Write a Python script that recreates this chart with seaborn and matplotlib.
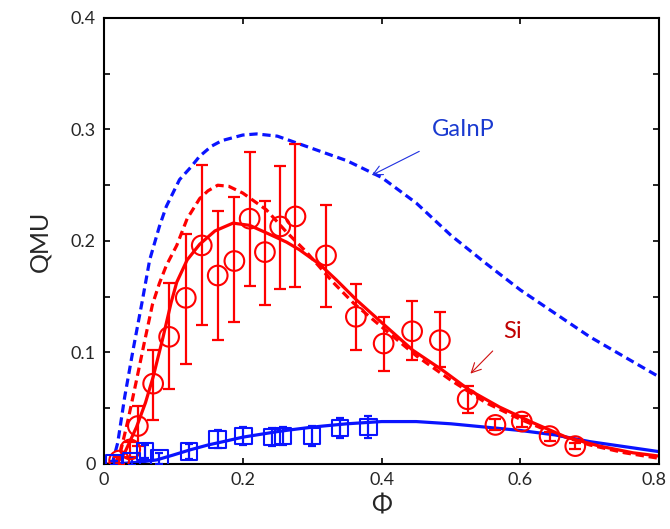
import numpy as np
import pandas as pd
import matplotlib
matplotlib.use("Agg")
import matplotlib.pyplot as plt
from matplotlib.ticker import MultipleLocator, FuncFormatter
import seaborn as sns

# ---- model curves ----
gainp_dash_x = [0.012, 0.02, 0.03, 0.042, 0.055, 0.066, 0.08, 0.09, 0.109, 0.125, 0.138, 0.155,
                0.17, 0.2, 0.22, 0.25, 0.3, 0.35, 0.4, 0.45, 0.5, 0.55, 0.6, 0.65, 0.7, 0.75, 0.8]
gainp_dash_y = [0.0, 0.019, 0.06, 0.102, 0.145, 0.183, 0.213, 0.231, 0.255, 0.266, 0.276, 0.285,
                0.290, 0.295, 0.296, 0.294, 0.283, 0.272, 0.257, 0.234, 0.205, 0.180, 0.156,
                0.135, 0.114, 0.096, 0.078]

si_dash_x = [0.015, 0.023, 0.035, 0.047, 0.058, 0.07, 0.08, 0.09, 0.105, 0.12, 0.138, 0.15,
             0.164, 0.18, 0.2, 0.234, 0.263, 0.292, 0.33, 0.36, 0.4, 0.45, 0.5, 0.55, 0.6,
             0.65, 0.7, 0.75, 0.8]
si_dash_y = [0.0, 0.008, 0.040, 0.075, 0.108, 0.143, 0.162, 0.178, 0.196, 0.220, 0.238, 0.245,
             0.250, 0.249, 0.243, 0.228, 0.208, 0.190, 0.163, 0.144, 0.123, 0.097, 0.075,
             0.055, 0.040, 0.027, 0.017, 0.010, 0.005]

si_fit_x = [0.0, 0.018, 0.03, 0.047, 0.06, 0.071, 0.085, 0.097, 0.105, 0.12, 0.138, 0.16, 0.186,
            0.21, 0.235, 0.263, 0.282, 0.311, 0.335, 0.364, 0.407, 0.445, 0.488, 0.527, 0.57,
            0.618, 0.666, 0.714, 0.762, 0.8]
si_fit_y = [0.0, 0.0, 0.010, 0.033, 0.055, 0.078, 0.113, 0.145, 0.163, 0.183, 0.197, 0.209,
            0.216, 0.214, 0.207, 0.199, 0.192, 0.179, 0.165, 0.147, 0.123, 0.102, 0.084, 0.066,
            0.051, 0.037, 0.024, 0.016, 0.010, 0.007]

gainp_fit_x = [0.01, 0.028, 0.05, 0.076, 0.1, 0.124, 0.15, 0.172, 0.2, 0.22, 0.25, 0.268, 0.3,
               0.316, 0.35, 0.4, 0.45, 0.5, 0.55, 0.6, 0.65, 0.7, 0.75, 0.8]
gainp_fit_y = [0.0, 0.0005, 0.0015, 0.0036, 0.008, 0.0126, 0.017, 0.020, 0.024, 0.026, 0.029,
               0.0305, 0.033, 0.034, 0.036, 0.038, 0.038, 0.036, 0.033, 0.030, 0.026, 0.020,
               0.0155, 0.011]

# ---- measured points ----
si_x = [0.022, 0.038, 0.049, 0.071, 0.094, 0.118, 0.141, 0.164, 0.188, 0.210, 0.232, 0.254,
        0.276, 0.320, 0.363, 0.403, 0.444, 0.484, 0.524, 0.564, 0.602, 0.642, 0.679]
si_y = [0.003, 0.013, 0.034, 0.072, 0.114, 0.149, 0.196, 0.169, 0.182, 0.220, 0.190, 0.213,
        0.222, 0.187, 0.132, 0.108, 0.119, 0.111, 0.058, 0.035, 0.038, 0.025, 0.016]
si_hi = [0.006, 0.020, 0.052, 0.102, 0.162, 0.206, 0.268, 0.227, 0.239, 0.280, 0.236, 0.267,
         0.287, 0.232, 0.161, 0.132, 0.146, 0.136, 0.070, 0.040, 0.043, 0.029, 0.019]
si_lo = [0.000, 0.006, 0.016, 0.039, 0.067, 0.090, 0.125, 0.111, 0.127, 0.160, 0.143, 0.157,
         0.159, 0.141, 0.102, 0.083, 0.093, 0.087, 0.046, 0.030, 0.033, 0.021, 0.013]

gainp_x = [0.015, 0.040, 0.059, 0.080, 0.123, 0.164, 0.201, 0.242, 0.258, 0.300, 0.340, 0.381]
gainp_y = [0.001, 0.002, 0.011, 0.005, 0.011, 0.022, 0.025, 0.024, 0.025, 0.025, 0.032, 0.033]
gainp_err = [0.002, 0.003, 0.006, 0.005, 0.007, 0.008, 0.008, 0.008, 0.008, 0.009, 0.009, 0.010]

sns.set_style("ticks")
plt.rcParams['font.family'] = ['Lato', 'DejaVu Sans']

fig = plt.figure(figsize=(6.7, 5.29), dpi=100)
ax = fig.add_axes([0.155, 0.123, 0.829, 0.843])

dash = (0, (2.6, 1.5))
sns.lineplot(x=gainp_dash_x, y=gainp_dash_y, ax=ax, color="#0a14ff", lw=2.3,
             linestyle=dash, sort=False, estimator=None)
sns.lineplot(x=si_dash_x, y=si_dash_y, ax=ax, color="red", lw=2.3,
             linestyle=dash, sort=False, estimator=None)
sns.lineplot(x=gainp_fit_x, y=gainp_fit_y, ax=ax, color="#0a14ff", lw=2.3,
             sort=False, estimator=None)
sns.lineplot(x=si_fit_x, y=si_fit_y, ax=ax, color="red", lw=2.3,
             sort=False, estimator=None)

si_y_arr = np.array(si_y)
ax.errorbar(si_x, si_y, yerr=[si_y_arr - np.array(si_lo), np.array(si_hi) - si_y_arr],
            fmt="none", ecolor="red", elinewidth=1.6, capsize=4, capthick=1.6, zorder=4)
sns.scatterplot(x=si_x, y=si_y, ax=ax, marker="o", s=200, facecolor="none",
                edgecolor="red", linewidth=1.5, zorder=5)

ax.errorbar(gainp_x, gainp_y, yerr=gainp_err, fmt="none", ecolor="#0a14ff",
            elinewidth=1.6, capsize=3, capthick=1.6, zorder=4)
sns.scatterplot(x=gainp_x, y=gainp_y, ax=ax, marker="s", s=140, facecolor="none",
                edgecolor="#0a14ff", linewidth=1.5, zorder=5)

ax.annotate("GaInP", xy=(0.386, 0.259), xytext=(0.517, 0.300), color="#1a3ad0",
            fontsize=17, ha="center", va="center",
            arrowprops=dict(arrowstyle="->", color="#2030e0", lw=0.8,
                            shrinkA=13, shrinkB=0))
ax.annotate("Si", xy=(0.528, 0.081), xytext=(0.588, 0.119), color="#c00000",
            fontsize=17, ha="center", va="center",
            arrowprops=dict(arrowstyle="->", color="#d01010", lw=0.8,
                            shrinkA=7, shrinkB=0))

ax.set_xlim(0, 0.8)
ax.set_ylim(0, 0.4)
ax.xaxis.set_major_locator(MultipleLocator(0.2))
ax.yaxis.set_major_locator(MultipleLocator(0.1))
ax.yaxis.set_minor_locator(MultipleLocator(0.05))
# the 0.8 label sits at the canvas edge, so it is drawn separately a bit to the left
ax.xaxis.set_major_formatter(FuncFormatter(lambda v, p: "" if v > 0.79 else f"{v:g}"))
ax.yaxis.set_major_formatter(FuncFormatter(lambda v, p: f"{v:g}"))
ax.tick_params(which="both", direction="in", top=True, right=True, labelsize=13,
               width=1.2, color="black")
ax.tick_params(which="major", length=4, pad=6)
ax.tick_params(which="minor", length=4)
ax.annotate("0.8", xy=(0.8, 0), xycoords="data", xytext=(-4, -6),
            textcoords="offset points", ha="center", va="top", fontsize=13,
            annotation_clip=False)
for s in ax.spines.values():
    s.set_linewidth(1.5)
    s.set_color("black")

ax.set_xlabel("Φ", fontsize=18, labelpad=4)
ax.set_ylabel("QMU", fontsize=18, labelpad=14)

fig.savefig("out.png", dpi=100)
